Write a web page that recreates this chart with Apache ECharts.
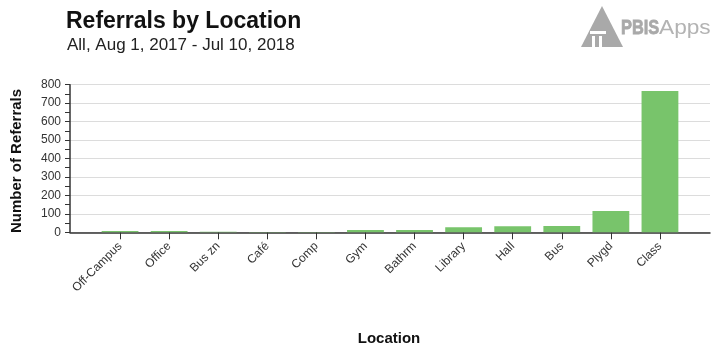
<!DOCTYPE html>
<html>
<head>
<meta charset="utf-8">
<script src="https://cdn.jsdelivr.net/npm/echarts@6/dist/echarts.min.js"></script>
<style>
  html, body { margin: 0; padding: 0; background: #fff; }
  #chart { width: 720px; height: 346px; }
</style>
</head>
<body>
<div id="chart"></div>
<script>
// Referral counts per location
const locations = ['Off-Campus', 'Office', 'Bus zn', 'Café', 'Comp', 'Gym', 'Bathrm', 'Library', 'Hall', 'Bus', 'Plygd', 'Class'];
const referrals = [7, 7, 3, 2, 2, 12, 12, 27, 33, 34, 115, 766];
const yTicks = [0, 100, 200, 300, 400, 500, 600, 700, 800];

const FONT = 'Liberation Sans, Arial, sans-serif';
const yMin = yTicks[0], yMax = yTicks[yTicks.length - 1];
const plotTop = 84.7, plotBottom = 346 - 232.3;

const chart = echarts.init(document.getElementById('chart'), null, { renderer: 'canvas' });

chart.setOption({
  animation: false,
  textStyle: { fontFamily: FONT },
  grid: [
    // frame: y axis, gridlines and baseline
    { left: 70, right: 10, top: plotTop, bottom: plotBottom },
    // bars, inset from the frame
    { left: 95.5, right: 35.5, top: plotTop, bottom: plotBottom }
  ],
  xAxis: [
    {
      gridIndex: 0, type: 'value', min: 0, max: 1,
      axisLine: { show: true, onZero: false, lineStyle: { color: '#333', width: 1.5 } },
      axisTick: { show: false }, axisLabel: { show: false }, splitLine: { show: false }
    },
    {
      gridIndex: 1, type: 'category', data: locations,
      axisLine: { show: false },
      axisTick: { show: true, alignWithLabel: true, length: 7, lineStyle: { color: '#333' } },
      axisLabel: { rotate: 45, fontSize: 12, color: '#333', margin: 12, interval: 0, fontFamily: FONT }
    }
  ],
  yAxis: [
    {
      gridIndex: 0, type: 'value', min: yMin, max: yMax, interval: 100,
      axisLine: { show: true, lineStyle: { color: '#333', width: 1.5 } },
      axisTick: { show: true, length: 5, lineStyle: { color: '#333' } },
      minorTick: { show: true, splitNumber: 2, length: 5, lineStyle: { color: '#333' } },
      axisLabel: { fontSize: 12, color: '#333', margin: 9, fontFamily: FONT },
      splitLine: { show: true, lineStyle: { color: '#dcdcdc', width: 1 } }
    },
    {
      gridIndex: 1, type: 'value', min: yMin, max: yMax, show: false
    }
  ],
  series: [
    {
      type: 'bar', xAxisIndex: 1, yAxisIndex: 1,
      data: referrals, barWidth: '75%',
      itemStyle: { color: '#78c46b' }
    }
  ],
  graphic: [
    { type: 'text', left: 66, top: 10,
      style: { text: 'Referrals by Location', font: 'bold 23px ' + FONT, fill: '#111' } },
    { type: 'text', left: 67, top: 37,
      style: { text: 'All, Aug 1, 2017 - Jul 10, 2018', font: '17px ' + FONT, fill: '#222' } },
    { type: 'text', x: 17, y: 161, rotation: Math.PI / 2,
      style: { text: 'Number of Referrals', font: 'bold 15px ' + FONT, fill: '#111', align: 'center', verticalAlign: 'middle' } },
    { type: 'text', x: 389, y: 339,
      style: { text: 'Location', font: 'bold 15px ' + FONT, fill: '#111', align: 'center', verticalAlign: 'middle' } },
    // PBISApps logo
    { type: 'polygon', shape: { points: [[602, 6], [623, 47], [581, 47]] }, style: { fill: '#a9a9a9' } },
    { type: 'rect', shape: { x: 590, y: 31, width: 16, height: 3 }, style: { fill: '#fff' } },
    { type: 'rect', shape: { x: 592, y: 36, width: 3, height: 11 }, style: { fill: '#fff' } },
    { type: 'rect', shape: { x: 599, y: 36, width: 3, height: 11 }, style: { fill: '#fff' } },
    { type: 'text', x: 621, y: 28, scaleX: 0.78,
      style: { text: 'PBIS', font: 'bold 21px ' + FONT, fill: '#a9a9a9', stroke: '#a9a9a9', lineWidth: 0.8, verticalAlign: 'middle' } },
    { type: 'text', x: 659, y: 28, scaleX: 1.08,
      style: { text: 'Apps', font: '21px ' + FONT, fill: '#b3b3b3', verticalAlign: 'middle' } }
  ]
});
</script>
</body>
</html>
